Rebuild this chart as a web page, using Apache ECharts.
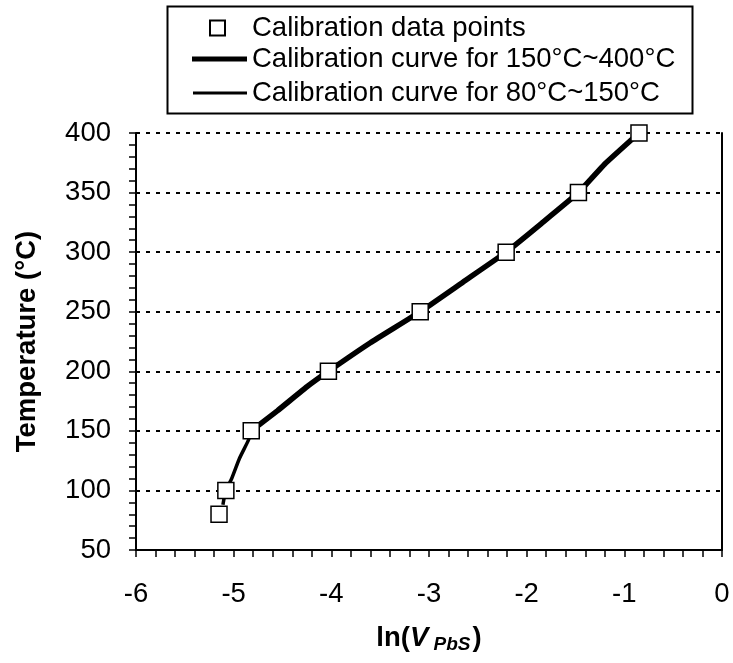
<!DOCTYPE html>
<html>
<head>
<meta charset="utf-8">
<script src="https://cdn.jsdelivr.net/npm/echarts@6/dist/echarts.min.js"></script>
<style>html,body{margin:0;padding:0;background:#fff}#c{width:733px;height:663px}</style>
</head>
<body>
<div id="c"></div>
<script>
// Calibration data points
const pointX = [-5.15, -5.08, -4.82, -4.03, -3.09, -2.21, -1.47, -0.85];
const pointY = [80, 100, 150, 200, 250, 300, 350, 400];
// Calibration curve for 150°C~400°C
const hiX = [-4.82, -4.55, -4.25, -4.03, -3.6, -3.09, -2.65, -2.21, -1.85, -1.47, -1.2, -0.85];
const hiY = [150, 167, 187, 200, 224, 250, 275, 300, 324, 350, 374, 400];
// Calibration curve for 80°C~150°C
const loX = [-5.11, -5.08, -5.02, -4.94, -4.85, -4.82];
const loY = [88, 100, 110, 127, 142, 150];
// Axis ticks
const xTicks = [-6, -5, -4, -3, -2, -1, 0];
const yTicks = [50, 100, 150, 200, 250, 300, 350, 400];

const FONT = "'Liberation Sans', Arial, sans-serif";
const FS = 27.5;
const zip = (a, b) => a.map((v, i) => [v, b[i]]);
const legendText = {fontFamily: FONT, fontSize: FS, color: '#000'};

const chart = echarts.init(document.getElementById('c'), null, {renderer: 'canvas'});
chart.setOption({
  animation: false,
  backgroundColor: '#fff',
  textStyle: {fontFamily: FONT, color: '#000'},
  grid: {left: 136, right: 11, top: 133, bottom: 113, containLabel: false},
  graphic: [{
    type: 'rect', left: 165, top: 4,
    shape: {x: 0, y: 0, width: 525, height: 107},
    style: {fill: 'none', stroke: '#000', lineWidth: 2}, z: 10
  }],
  legend: [{
    data: [{name: 'Calibration data points', icon: 'rect'}],
    left: 204, top: 9, itemWidth: 15, itemHeight: 15,
    selectedMode: false,
    textStyle: Object.assign({padding: [0, 0, 0, 22]}, legendText)
  }, {
    data: [{name: 'Calibration curve for 150°C~400°C', icon: 'rect'}],
    left: 187, top: 40, itemWidth: 55, itemHeight: 5,
    selectedMode: false, textStyle: legendText
  }, {
    data: [{name: 'Calibration curve for 80°C~150°C', icon: 'rect'}],
    left: 188, top: 74, itemWidth: 54, itemHeight: 3,
    selectedMode: false, textStyle: legendText
  }],
  xAxis: {
    type: 'value', min: xTicks[0], max: xTicks[xTicks.length - 1], interval: 1,
    axisLine: {show: true, onZero: false, lineStyle: {color: '#000', width: 2}},
    axisTick: {show: true, inside: false, length: 7, lineStyle: {color: '#000', width: 1.5}},
    minorTick: {show: true, splitNumber: 5, length: 7, lineStyle: {color: '#000', width: 1.5}},
    splitLine: {show: false},
    axisLabel: {fontFamily: FONT, fontSize: FS, color: '#000', margin: 30},
    name: '{a|ln(}{b|V}{c| PbS}{a|)}',
    nameLocation: 'middle', nameGap: 73,
    nameTextStyle: {
      rich: {
        a: {fontFamily: FONT, fontSize: FS, fontWeight: 'bold', color: '#000'},
        b: {fontFamily: FONT, fontSize: FS, fontWeight: 'bold', fontStyle: 'italic', color: '#000'},
        c: {fontFamily: FONT, fontSize: 19, fontWeight: 'bold', fontStyle: 'italic', color: '#000', padding: [12, 2, 0, 0]}
      }
    }
  },
  yAxis: [{
    type: 'value', min: yTicks[0], max: yTicks[yTicks.length - 1], interval: 50,
    axisLine: {show: true, onZero: false, lineStyle: {color: '#000', width: 2}},
    axisTick: {show: true, inside: false, length: 7, lineStyle: {color: '#000', width: 1.5}},
    minorTick: {show: true, splitNumber: 5, length: 7, lineStyle: {color: '#000', width: 1.5}},
    splitLine: {show: true, lineStyle: {color: '#000', width: 2, type: [4, 6]}},
    axisLabel: {fontFamily: FONT, fontSize: FS, color: '#000', margin: 25},
    name: 'Temperature (°C)', nameLocation: 'middle', nameGap: 95,
    nameTextStyle: {fontFamily: FONT, fontSize: FS, fontWeight: 'bold', color: '#000'}
  }, {
    type: 'value', min: yTicks[0], max: yTicks[yTicks.length - 1], interval: 50, position: 'right',
    axisLine: {show: true, onZero: false, lineStyle: {color: '#000', width: 2}},
    axisTick: {show: false}, axisLabel: {show: false}, splitLine: {show: false}
  }],
  series: [{
    name: 'Calibration curve for 150°C~400°C', type: 'line', smooth: 0.12,
    data: zip(hiX, hiY), showSymbol: false, symbol: 'none',
    lineStyle: {color: '#000', width: 5.5}, itemStyle: {color: '#000'}, z: 2
  }, {
    name: 'Calibration curve for 80°C~150°C', type: 'line', smooth: 0.2,
    data: zip(loX, loY), showSymbol: false, symbol: 'none',
    lineStyle: {color: '#000', width: 3.5}, itemStyle: {color: '#000'}, z: 2
  }, {
    name: 'Calibration data points', type: 'scatter', symbol: 'rect', symbolSize: 16,
    data: zip(pointX, pointY),
    itemStyle: {color: '#fff', borderColor: '#000', borderWidth: 1.5, opacity: 1}, z: 5
  }]
});
</script>
</body>
</html>
